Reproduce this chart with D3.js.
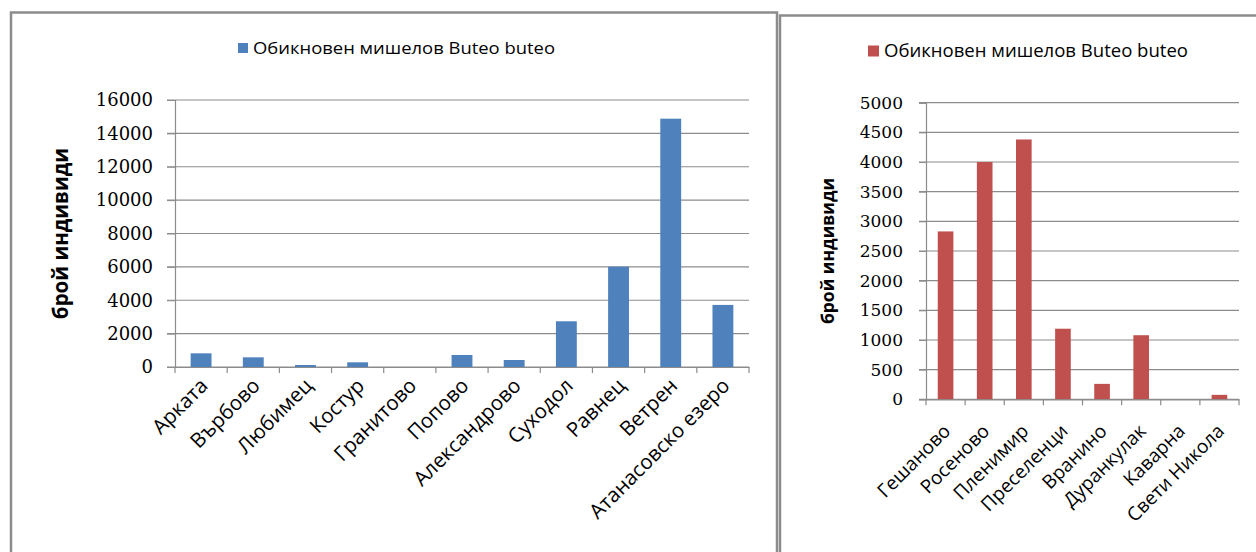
<!DOCTYPE html>
<html>
<head>
<meta charset="utf-8">
<script src="https://cdn.jsdelivr.net/npm/d3@7"></script>
<style>
  body { margin: 0; background: #fff; }
  svg { display: block; }
</style>
</head>
<body>
<div id="chart"></div>
<script>
const seriesName = "Обикновен мишелов Buteo buteo";
const yTitle = "брой индивиди";

const leftSites = ["Арката", "Върбово", "Любимец", "Костур", "Гранитово", "Попово",
	"Александрово", "Суходол", "Равнец", "Ветрен", "Атанасовско езеро"];
const leftValues = [820, 580, 120, 280, 0, 720, 420, 2740, 6010, 14880, 3720];
const leftTicks = [0, 2000, 4000, 6000, 8000, 10000, 12000, 14000, 16000];

const rightSites = ["Гешаново", "Росеново", "Пленимир", "Преселенци", "Вранино",
	"Дуранкулак", "Каварна", "Свети Никола"];
const rightValues = [2830, 4000, 4380, 1190, 260, 1080, 0, 75];
const rightTicks = [0, 500, 1000, 1500, 2000, 2500, 3000, 3500, 4000, 4500, 5000];

const svg = d3.select("#chart").append("svg")
	.attr("width", 1256)
	.attr("height", 552);

// frames
svg.append("rect")
	.attr("x", 11).attr("y", 12.5)
	.attr("width", 766).attr("height", 580)
	.attr("fill", "#fff").attr("stroke", "#8c8c8c").attr("stroke-width", 2.5);
svg.append("rect")
	.attr("x", 780).attr("y", 15.5)
	.attr("width", 520).attr("height", 580)
	.attr("fill", "#fff").attr("stroke", "#8c8c8c").attr("stroke-width", 2.5);

function drawChart(opts) {
	const g = svg.append("g");
	const x = d3.scaleBand().domain(opts.sites).range([opts.x0, opts.x1]).paddingInner(0).paddingOuter(0);
	const y = d3.scaleLinear().domain([0, opts.max]).range([opts.y0, opts.y1]);

	// gridlines
	g.selectAll(".grid").data(opts.ticks).enter().append("line")
		.attr("x1", opts.x0 - opts.tickLen).attr("x2", opts.x1)
		.attr("y1", (d) => y(d)).attr("y2", (d) => y(d))
		.attr("stroke", "#8c8c8c").attr("stroke-width", 1.2);

	// y axis
	const yAxis = g.append("g")
		.attr("transform", `translate(${opts.x0},0)`)
		.call(d3.axisLeft(y).tickValues(opts.ticks).tickSize(opts.tickLen).tickPadding(opts.tickPad).tickFormat(d3.format("d")));
	yAxis.select(".domain").attr("stroke", "#8c8c8c").attr("stroke-width", 1.2);
	yAxis.selectAll(".tick line").attr("stroke", "#8c8c8c");
	yAxis.selectAll("text")
		.attr("font-family", "'DejaVu Serif', serif")
		.attr("font-size", opts.tickSize)
		.attr("fill", "#000");

	// bars
	const bw = x.bandwidth() * 0.4;
	g.selectAll(".bar").data(opts.values).enter().append("rect")
		.attr("x", (d, i) => x(opts.sites[i]) + (x.bandwidth() - bw) / 2)
		.attr("y", (d) => y(d))
		.attr("width", bw)
		.attr("height", (d) => opts.y0 - y(d))
		.attr("fill", opts.color);

	// x axis
	const xAxis = g.append("g")
		.attr("transform", `translate(0,${opts.y0})`)
		.call(d3.axisBottom(x).tickSize(0).tickFormat(""));
	xAxis.select(".domain").attr("stroke", "#8c8c8c").attr("stroke-width", 1.2);
	const bounds = opts.sites.map((s) => x(s)).concat([opts.x1]);
	g.selectAll(".xtick").data(bounds).enter().append("line")
		.attr("x1", (d) => d).attr("x2", (d) => d)
		.attr("y1", opts.y0).attr("y2", opts.y0 + 6)
		.attr("stroke", "#8c8c8c").attr("stroke-width", 1.2);

	g.selectAll(".xlabel").data(opts.sites).enter().append("text")
		.attr("transform", (d) => `translate(${x(d) + x.bandwidth() / 2 + opts.labelDx},${opts.y0 + opts.labelDy}) rotate(-45)`)
		.attr("text-anchor", "end")
		.attr("font-family", "'Open Sans', sans-serif")
		.attr("font-size", opts.labelSize)
		.attr("fill", "#000")
		.text((d) => d);

	// y title
	g.append("text")
		.attr("transform", `translate(${opts.titleX},${(opts.y0 + opts.y1) / 2}) rotate(-90)`)
		.attr("text-anchor", "middle")
		.attr("font-family", "'Open Sans', sans-serif")
		.attr("font-weight", "bold")
		.attr("font-size", opts.titleSize)
		.attr("fill", "#000")
		.text(yTitle);

	// legend
	g.append("rect")
		.attr("x", opts.legX).attr("y", opts.legY - opts.legSq / 2)
		.attr("width", opts.legSq).attr("height", opts.legSq)
		.attr("fill", opts.color);
	g.append("text")
		.attr("x", opts.legX + opts.legSq + 5).attr("y", opts.legY)
		.attr("dy", "0.35em")
		.attr("font-family", "'Open Sans', sans-serif")
		.attr("font-size", opts.legSize)
		.attr("textLength", opts.legLen)
		.attr("lengthAdjust", "spacingAndGlyphs")
		.attr("fill", "#000")
		.text(seriesName);
}

drawChart({
	sites: leftSites, values: leftValues, ticks: leftTicks, max: 16000,
	x0: 175, x1: 749, y0: 367, y1: 100,
	color: "#4f81bd", tickSize: 18, tickLen: 8, tickPad: 14,
	labelSize: 20.5, labelDx: 8, labelDy: 20,
	titleX: 68, titleSize: 20.5,
	legX: 238, legY: 48, legSq: 10, legSize: 17, legLen: 302
});

drawChart({
	sites: rightSites, values: rightValues, ticks: rightTicks, max: 5000,
	x0: 926, x1: 1239, y0: 399.3, y1: 102.7,
	color: "#c0504d", tickSize: 17, tickLen: 7, tickPad: 16,
	labelSize: 19, labelDx: 6, labelDy: 33,
	titleX: 834, titleSize: 17.5,
	legX: 868, legY: 51, legSq: 11, legSize: 18, legLen: 304
});
</script>
</body>
</html>
